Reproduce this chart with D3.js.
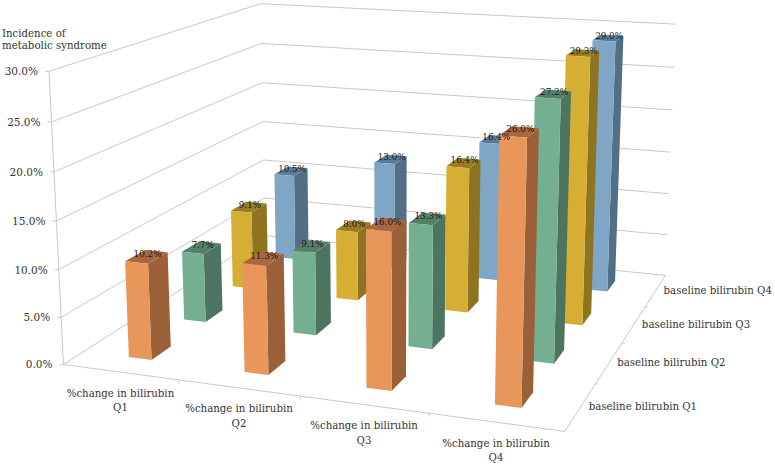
<!DOCTYPE html>
<meta charset="utf-8">
<script src="https://d3js.org/d3.v7.min.js"></script>
<title>Incidence of metabolic syndrome</title>
<style>
html, body { margin: 0; padding: 0; background: #fff; }
svg { display: block; font-family: "DejaVu Serif", serif; }
</style>
<svg width="775" height="465"></svg>
<script>

var changeLabels = ["%change in bilirubin Q1", "%change in bilirubin Q2", "%change in bilirubin Q3", "%change in bilirubin Q4"];
var baselineLabels = ["baseline bilirubin Q1", "baseline bilirubin Q2", "baseline bilirubin Q3", "baseline bilirubin Q4"];
var baselineQ1 = [10.2, 11.3, 16.0, 26.0];
var baselineQ2 = [7.7, 9.1, 13.3, 27.2];
var baselineQ3 = [9.1, 8.0, 16.4, 29.3];
var baselineQ4 = [10.5, 13.0, 16.4, 29.0];
var rows = [baselineQ1, baselineQ2, baselineQ3, baselineQ4];
var frontColors = ["#e8965a", "#75af91", "#d6ae33", "#7fa6c4"];
var sideColors = ["#9c6039", "#4d745f", "#8e7320", "#526f86"];
var topColors = ["#a8673e", "#558068", "#9a7c22", "#5a7b95"];

// camera calibration: [x 0..1, percent, depth 0..1] -> where that corner sits in the photo
var anchors = [
  [0, 0, 0, 63, 364], [0, 5, 0, 62, 317], [0, 10, 0, 59, 269], [0, 15, 0, 57, 222],
  [0, 20, 0, 54, 172], [0, 25, 0, 51.5, 122], [0, 30, 0, 49, 71],
  [0, 30, 1, 260, 3], [0, 25, 1, 261.5, 43], [0, 20, 1, 262, 83], [0, 15, 1, 263, 122], [0, 10, 1, 264, 160],
  [1, 30, 1, 677, 24.5], [1, 25, 1, 674, 67.6], [1, 20, 1, 672, 110], [1, 15, 1, 670, 152],
  [1, 10, 1, 668, 194], [1, 5, 1, 666.7, 235], [1, 0, 1, 666.7, 275],
  [0.25, 0, 0, 178, 381], [0.5, 0, 0, 300, 397], [0.75, 0, 0, 428, 413], [1, 0, 0, 565, 431],
  [1, 0, 0.25, 597, 383], [1, 0, 0.5, 622, 343], [1, 0, 0.75, 645, 307]
];

var svg = d3.select("svg");

var x = d3.scaleBand().domain(d3.range(4)).range([0, 1]).paddingInner(0.8).paddingOuter(0.4);
var z = d3.scaleBand().domain(d3.range(4)).range([0, 1]).paddingInner(0.66).paddingOuter(0.33);
var y = d3.scaleLinear().domain([0, 30]).range([0, 1]);

function solve(A, b) {
  var n = b.length;
  for (var c = 0; c < n; c++) {
    var piv = c;
    for (var r = c + 1; r < n; r++) if (Math.abs(A[r][c]) > Math.abs(A[piv][c])) piv = r;
    var t = A[c]; A[c] = A[piv]; A[piv] = t;
    t = b[c]; b[c] = b[piv]; b[piv] = t;
    for (r = c + 1; r < n; r++) {
      var f = A[r][c] / A[c][c];
      for (var k = c; k < n; k++) A[r][k] -= f * A[c][k];
      b[r] -= f * b[c];
    }
  }
  var out = new Array(n);
  for (c = n - 1; c >= 0; c--) {
    var s = b[c];
    for (k = c + 1; k < n; k++) s -= A[c][k] * out[k];
    out[c] = s / A[c][c];
  }
  return out;
}

function fitCamera() {
  var eqs = [], rhs = [];
  anchors.forEach(function(a) {
    var X = a[0], Y = y(a[1]), Z = a[2], u = a[3] / 775, v = a[4] / 775;
    eqs.push([X, Y, Z, 1, 0, 0, 0, 0, -u * X, -u * Y, -u * Z]); rhs.push(u);
    eqs.push([0, 0, 0, 0, X, Y, Z, 1, -v * X, -v * Y, -v * Z]); rhs.push(v);
  });
  var AtA = d3.range(11).map(function(i) {
    return d3.range(11).map(function(j) { return d3.sum(eqs, function(e) { return e[i] * e[j]; }); });
  });
  var Atb = d3.range(11).map(function(i) {
    return d3.sum(eqs, function(e, r) { return e[i] * rhs[r]; });
  });
  return solve(AtA, Atb);
}

var cam = fitCamera();

// fx, fz are 0..1 along the floor, value is in percent
function project(fx, value, fz) {
  var Y = y(value);
  var w = cam[8] * fx + cam[9] * Y + cam[10] * fz + 1;
  return [775 * (cam[0] * fx + cam[1] * Y + cam[2] * fz + cam[3]) / w,
          775 * (cam[4] * fx + cam[5] * Y + cam[6] * fz + cam[7]) / w];
}

var line = d3.line();
var ticks = y.ticks(6);
var gridColor = "#c9c9c9";

// walls
var grid = svg.append("g").attr("fill", "none").attr("stroke", gridColor).attr("stroke-width", 1);
grid.selectAll("path.g")
  .data(ticks)
  .join("path")
    .attr("class", "g")
    .attr("d", function(d) { return line([project(0, d, 0), project(0, d, 1), project(1, d, 1)]); });

// floor edges and axis lines
grid.append("path").attr("d", line([project(0, 30, 0), project(0, 0, 0), project(1, 0, 0), project(1, 0, 1)]));
ticks.forEach(function(d) {
  var p = project(0, d, 0);
  grid.append("path").attr("d", line([[p[0] - 4, p[1]], p]));
});
d3.range(1, 4).forEach(function(i) {
  var p = project(i / 4, 0, 0), q = project(1, 0, i / 4);
  grid.append("path").attr("d", line([p, [p[0], p[1] + 3]]));
  grid.append("path").attr("d", line([q, [q[0] + 3, q[1]]]));
});

// bars: back row first, left to right in a row
var bars = [];
d3.range(3, -1, -1).forEach(function(j) {
  rows[j].forEach(function(v, i) { bars.push({i: i, j: j, v: v}); });
});

var bar = svg.append("g").selectAll("g")
  .data(bars)
  .join("g");

function face(d, kind) {
  var x0 = x(d.i), x1 = x0 + x.bandwidth(), z0 = z(d.j), z1 = z0 + z.bandwidth();
  if (kind == "front") return [project(x0, 0, z0), project(x1, 0, z0), project(x1, d.v, z0), project(x0, d.v, z0)];
  if (kind == "side") return [project(x1, 0, z0), project(x1, 0, z1), project(x1, d.v, z1), project(x1, d.v, z0)];
  return [project(x0, d.v, z0), project(x1, d.v, z0), project(x1, d.v, z1), project(x0, d.v, z1)];
}

bar.append("path")
    .attr("fill", function(d) { return sideColors[d.j]; })
    .attr("d", function(d) { return line(face(d, "side")) + "Z"; });
bar.append("path")
    .attr("fill", function(d) { return topColors[d.j]; })
    .attr("d", function(d) { return line(face(d, "top")) + "Z"; });
bar.append("path")
    .attr("fill", function(d) { return frontColors[d.j]; })
    .attr("d", function(d) { return line(face(d, "front")) + "Z"; });

// value labels sit on the top face
svg.append("g").selectAll("text")
  .data(bars)
  .join("text")
    .attr("text-anchor", "middle")
    .attr("font-size", 8.8)
    .attr("fill", "#1a1a1a")
    .attr("x", function(d) { return project(x(d.i) + x.bandwidth() / 2, d.v, z(d.j) + z.bandwidth() / 2)[0] + 1; })
    .attr("y", function(d) { return project(x(d.i) + x.bandwidth() / 2, d.v, z(d.j) + z.bandwidth() / 2)[1] + 0.5; })
    .text(function(d) { return d.v.toFixed(1) + "%"; });

var textColor = "#333";

// percent axis
svg.append("g").selectAll("text")
  .data(ticks)
  .join("text")
    .attr("text-anchor", "end")
    .attr("font-size", 10.5)
    .attr("fill", textColor)
    .attr("x", function(d) { return project(0, d, 0)[0] - 11; })
    .attr("y", function(d) { return project(0, d, 0)[1] + 4; })
    .text(function(d) { return d.toFixed(1) + "%"; });

// front axis, two lines each
var front = svg.append("g").selectAll("text")
  .data(changeLabels)
  .join("text")
    .attr("text-anchor", "middle")
    .attr("font-size", 10.2)
    .attr("fill", textColor)
    .attr("transform", function(d, i) {
      var p = project((i + 0.5) / 4, 0, 0);
      return "translate(" + p[0] + "," + (p[1] + 24.5) + ")";
    });
front.append("tspan").attr("x", 0).text(function(d) { return d.slice(0, d.lastIndexOf(" ")); });
front.append("tspan").attr("x", 0).attr("dy", 14.5).text(function(d) { return d.slice(d.lastIndexOf(" ") + 1); });

// depth axis
svg.append("g").selectAll("text")
  .data(baselineLabels)
  .join("text")
    .attr("font-size", 10.2)
    .attr("fill", textColor)
    .attr("x", function(d, i) { return project(1, 0, (i + 0.5) / 4)[0] + 8; })
    .attr("y", function(d, i) { return project(1, 0, (i + 0.5) / 4)[1] + 3.5; })
    .text(function(d) { return d; });

// axis title
var title = svg.append("text").attr("font-size", 10.2).attr("fill", textColor);
title.append("tspan").attr("x", 2).attr("y", 37).text("Incidence of");
title.append("tspan").attr("x", 2).attr("y", 49).text("metabolic syndrome");

</script>
